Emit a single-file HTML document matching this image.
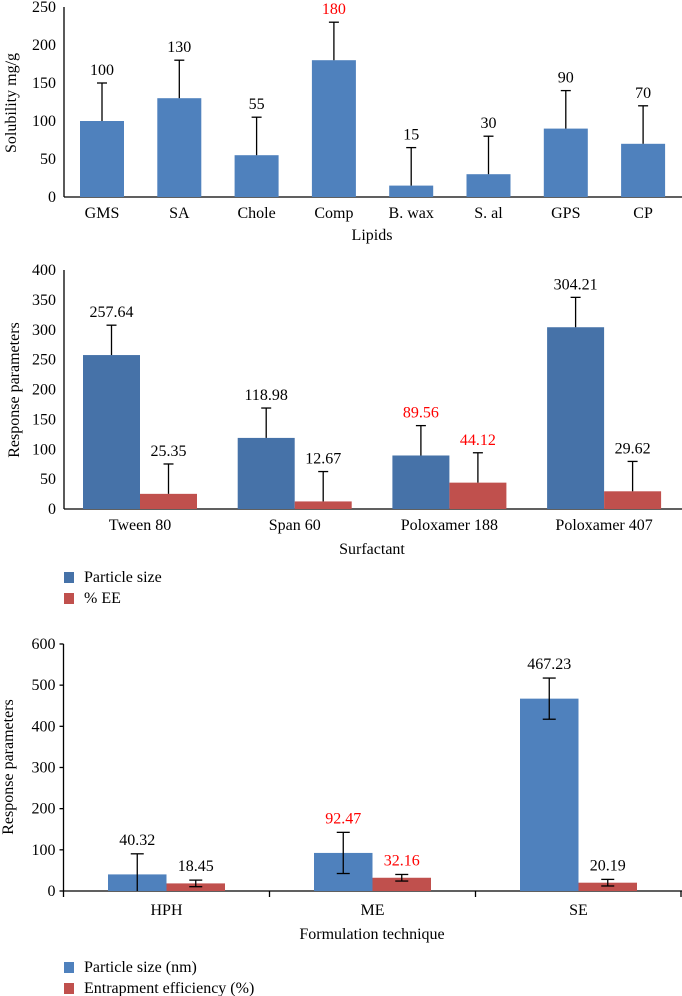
<!DOCTYPE html>
<html><head><meta charset="utf-8"><style>
html,body{margin:0;padding:0;background:#fff;}
svg{display:block;font-family:"Liberation Serif",serif;}
</style></head><body>
<svg id="s" width="682" height="996" viewBox="0 0 682 996" xmlns="http://www.w3.org/2000/svg"></svg>
<script>
// Chart 1 data
const lipidCats=["GMS","SA","Chole","Comp","B. wax","S. al","GPS","CP"];
const lipidVals=[100,130,55,180,15,30,90,70];
const lipidErr=[50,50,50,50,50,50,50,50];
const lipidTicks=[0,50,100,150,200,250];
// Chart 2 data
const surfCats=["Tween 80","Span 60","Poloxamer 188","Poloxamer 407"];
const surfSize=[257.64,118.98,89.56,304.21];
const surfEE=[25.35,12.67,44.12,29.62];
const surfErr=[50,50,50,50];
const surfTicks=[0,50,100,150,200,250,300,350,400];
// Chart 3 data
const techCats=["HPH","ME","SE"];
const techSize=[40.32,92.47,467.23];
const techEE=[18.45,32.16,20.19];
const techSizeErr=[50,50,50];
const techEEErr=[8,8,8];
const techTicks=[0,100,200,300,400,500,600];

const S=document.getElementById('s');
const NS="http://www.w3.org/2000/svg";
const FS=16;
function el(tag,attrs,txt){const e=document.createElementNS(NS,tag);for(const k in attrs)e.setAttribute(k,attrs[k]);if(txt!==undefined)e.textContent=txt;S.appendChild(e);return e;}
function txt(x,y,s,anchor,fill,size,name,rot){
  const a={x:x,y:y,'text-anchor':anchor||'middle',fill:fill||'#000','font-size':size||FS};
  if(rot)a.transform='rotate(-90 '+x+' '+y+')';
  const e=el('text',a,s);
  
  
  return e;
}
function line(x1,y1,x2,y2,name,w){const e=el('line',{x1:x1,y1:y1,x2:x2,y2:y2,stroke:'#000','stroke-width':w||1.3});return e;}
function rect(x,y,w,h,fill,name){const e=el('rect',{x:x,y:y,width:w,height:Math.max(0,h),fill:fill});return e;}

// ---------- Chart 1 ----------
(function(){
  const x0=64,y0=197,scale=0.76,c0=102,step=77.3,bw=44;
  const Y=v=>y0-v*scale;
  line(x0,Y(250),x0,y0,'y-axis-1');
  line(x0,y0,682,y0,'x-axis-1');
  lipidTicks.forEach(t=>{txt(x0-8,Y(t)+5,String(t),'end','#000',FS,'y-tick-label');});
  lipidCats.forEach((c,i)=>{
    const cx=c0+i*step;
    rect(cx-bw/2,Y(lipidVals[i]),bw,lipidVals[i]*scale,'#4f81bd','bar-'+c.toLowerCase().replace(/[^a-z]/g,''));
    const top=Y(lipidVals[i]+lipidErr[i]);
    line(cx,Y(lipidVals[i]),cx,top,'error-bar');
    line(cx-5,top,cx+5,top,'error-cap');
    txt(cx,top-8,String(lipidVals[i]),'middle',c==='Comp'?'#ff0000':'#000',FS,'value-label');
    txt(cx,218,c,'middle','#000',FS,'x-tick-label');
  });
  txt(372,240,'Lipids','middle','#000',FS,'x-axis-title');
  txt(16,103,'Solubility mg/g','middle','#000',FS,'y-axis-title',true);
})();

// ---------- Chart 2 ----------
(function(){
  const x0=64,y0=509,scale=0.5975,c0=140,step=154.7,bw=57;
  const Y=v=>y0-v*scale;
  line(x0,Y(400),x0,y0,'y-axis-2');
  line(x0,y0,682,y0,'x-axis-2');
  surfTicks.forEach(t=>{txt(x0-8,Y(t)+5,String(t),'end','#000',FS,'y-tick-label');});
  surfCats.forEach((c,i)=>{
    const cx=c0+i*step;
    [[surfSize[i],'#4672a8',cx-bw/2,'particle-size'],[surfEE[i],'#c0504d',cx+bw/2,'ee']].forEach(([v,col,bx,nm])=>{
      rect(bx-bw/2,Y(v),bw,v*scale,col,'bar-'+nm);
      const top=Y(v+surfErr[i]);
      line(bx,Y(v),bx,top,'error-bar');
      line(bx-5,top,bx+5,top,'error-cap');
      txt(bx,top-8,v.toFixed(2),'middle',i===2?'#ff0000':'#000',FS,'value-label');
    });
    txt(cx,530,c,'middle','#000',FS,'x-tick-label');
  });
  txt(372,554,'Surfactant','middle','#000',FS,'x-axis-title');
  txt(19,390,'Response parameters','middle','#000',FS,'y-axis-title',true);
  rect(64,572,10,11,'#4672a8','legend-swatch-particle-size');
  txt(84,582,'Particle size','start','#000',FS,'legend-entry-particle-size');
  rect(64,593,10,11,'#c0504d','legend-swatch-ee');
  txt(84,603,'% EE','start','#000',FS,'legend-entry-ee');
})();

// ---------- Chart 3 ----------
(function(){
  const x0=63.5,y0=891,scale=0.4117,c0=166.5,step=206,bw=58.5;
  const Y=v=>y0-v*scale;
  line(x0,Y(600),x0,y0,'y-axis-3');
  line(x0,y0,682,y0,'x-axis-3');
  techTicks.forEach(t=>{txt(x0-8,Y(t)+5,String(t),'end','#000',FS,'y-tick-label');line(x0-4,Y(t),x0,Y(t),'y-tick');});
  for(let k=0;k<=techCats.length;k++){const tx=Math.min(681,x0+k*step);line(tx,y0,tx,y0+6,'x-tick');}
  techCats.forEach((c,i)=>{
    const cx=c0+i*step;
    [[techSize[i],techSizeErr[i],'#4f81bd',cx-bw/2,'particle-size'],[techEE[i],techEEErr[i],'#c0504d',cx+bw/2,'ee']].forEach(([v,e,col,bx,nm])=>{
      rect(bx-bw/2,Y(v),bw,v*scale,col,'bar-'+nm);
      const top=Y(v+e),bot=Y(Math.max(0,v-e));
      line(bx,bot,bx,top,'error-bar');
      line(bx-6.5,top,bx+6.5,top,'error-cap');
      if(v-e>0)line(bx-6.5,bot,bx+6.5,bot,'error-cap');
      txt(bx,top-9,v.toFixed(2),'middle',i===1?'#ff0000':'#000',FS,'value-label');
    });
    txt(cx,915,c,'middle','#000',FS,'x-tick-label');
  });
  txt(372,939,'Formulation technique','middle','#000',FS,'x-axis-title');
  txt(13,767,'Response parameters','middle','#000',FS,'y-axis-title',true);
  rect(64,962,10,11,'#4f81bd','legend-swatch-particle-size');
  txt(84,972,'Particle size (nm)','start','#000',FS,'legend-entry-particle-size');
  rect(64,983,10,11,'#c0504d','legend-swatch-ee');
  txt(84,993,'Entrapment efficiency (%)','start','#000',FS,'legend-entry-ee');
})();
</script>
</body></html>
